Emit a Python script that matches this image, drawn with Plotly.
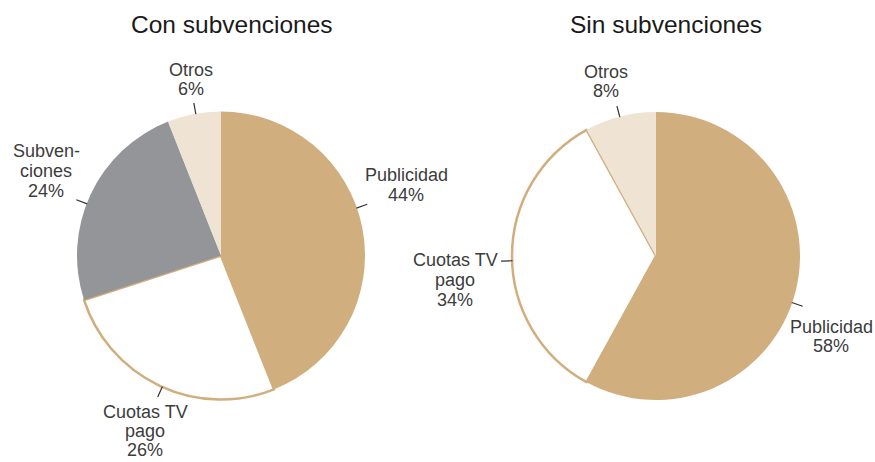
import math
import plotly.graph_objects as go

# ---- data ----
left_title = "Con subvenciones"
left_labels = ["Publicidad", "Cuotas TV pago", "Subvenciones", "Otros"]
left_values = [44, 26, 24, 6]

right_title = "Sin subvenciones"
right_labels = ["Publicidad", "Cuotas TV pago", "Otros"]
right_values = [58, 34, 8]

# ---- style / layout ----
W, H = 875, 462
TAN = "#D1AE7E"
GRAY = "#949598"
BEIGE = "#EFE3D3"
WHITE = "#FFFFFF"
color_map = {"Publicidad": TAN, "Cuotas TV pago": WHITE, "Subvenciones": GRAY, "Otros": BEIGE}
label_text = {
    "Publicidad": ["Publicidad"],
    "Cuotas TV pago": ["Cuotas TV", "pago"],
    "Subvenciones": ["Subven-", "ciones"],
    "Otros": ["Otros"],
}
FONT = "Liberation Sans, Arial, sans-serif"
LABEL_COLOR = "#3c3c3c"

# pie geometry in pixels (center x, center y, radius)
left_geo = (221, 255.5, 144)
right_geo = (656, 256, 144)

# label placement (pixel centers of first line), line pitch, leader tick angle (deg, clockwise from top)
left_place = {
    "Publicidad": (406, 175, 19.5, 70.7),
    "Cuotas TV pago": (145, 412, 19.2, 204.1),
    "Subvenciones": (46, 151, 19.8, 291.1),
    "Otros": (191, 70, 19.0, 349.9),
}
right_place = {
    "Publicidad": (831, 326.5, 19.8, 108.9),
    "Cuotas TV pago": (455, 259.5, 20.0, 268.1),
    "Otros": (606, 71.5, 20.0, 345.4),
}


def px(x):
    return x / W


def py(y):
    return 1 - y / H


fig = go.Figure()
annotations = []
shapes = []


def add_pie(labels, values, geo, place, title, title_x):
    cx, cy, r = geo
    colors = [color_map[l] for l in labels]
    lw = [2.5 if l == "Cuotas TV pago" else 0 for l in labels]
    fig.add_trace(go.Pie(
        labels=labels, values=values, sort=False, direction="clockwise", rotation=0,
        marker=dict(colors=colors, line=dict(color=TAN, width=lw)),
        textinfo="none", hoverinfo="skip", showlegend=False,
        domain=dict(x=[px(cx - r), px(cx + r)], y=[py(cy + r), py(cy - r)]),
    ))
    total = sum(values)
    for l, v in zip(labels, values):
        lx, ly, pitch, ang = place[l]
        lines = label_text[l] + [f"{round(100 * v / total)}%"]
        for i, t in enumerate(lines):
            annotations.append(dict(
                x=px(lx), y=py(ly + i * pitch), xref="paper", yref="paper",
                text=t, showarrow=False, xanchor="center", yanchor="middle",
                borderpad=0,
                font=dict(family=FONT, size=18, color=LABEL_COLOR),
            ))
        a = math.radians(ang)
        r0, r1 = r - 0.5, r + 11
        shapes.append(dict(
            type="line", xref="paper", yref="paper",
            x0=px(cx + r0 * math.sin(a)), y0=py(cy - r0 * math.cos(a)),
            x1=px(cx + r1 * math.sin(a)), y1=py(cy - r1 * math.cos(a)),
            line=dict(color="#333333", width=1.2),
        ))
    annotations.append(dict(
        x=px(title_x), y=py(24.5), xref="paper", yref="paper",
        text=title, showarrow=False, xanchor="center", yanchor="middle",
        font=dict(family=FONT, size=24.5, color="#1a1a1a"),
    ))


add_pie(left_labels, left_values, left_geo, left_place, left_title, 232)
add_pie(right_labels, right_values, right_geo, right_place, right_title, 666)

fig.update_layout(
    width=W, height=H,
    margin=dict(l=0, r=0, t=0, b=0),
    paper_bgcolor="white", plot_bgcolor="white",
    annotations=annotations, shapes=shapes,
)

fig.write_html(
    "out.html",
    config={"displayModeBar": False},
    post_script="document.body.style.margin='0';document.body.style.overflow='hidden';",
)
